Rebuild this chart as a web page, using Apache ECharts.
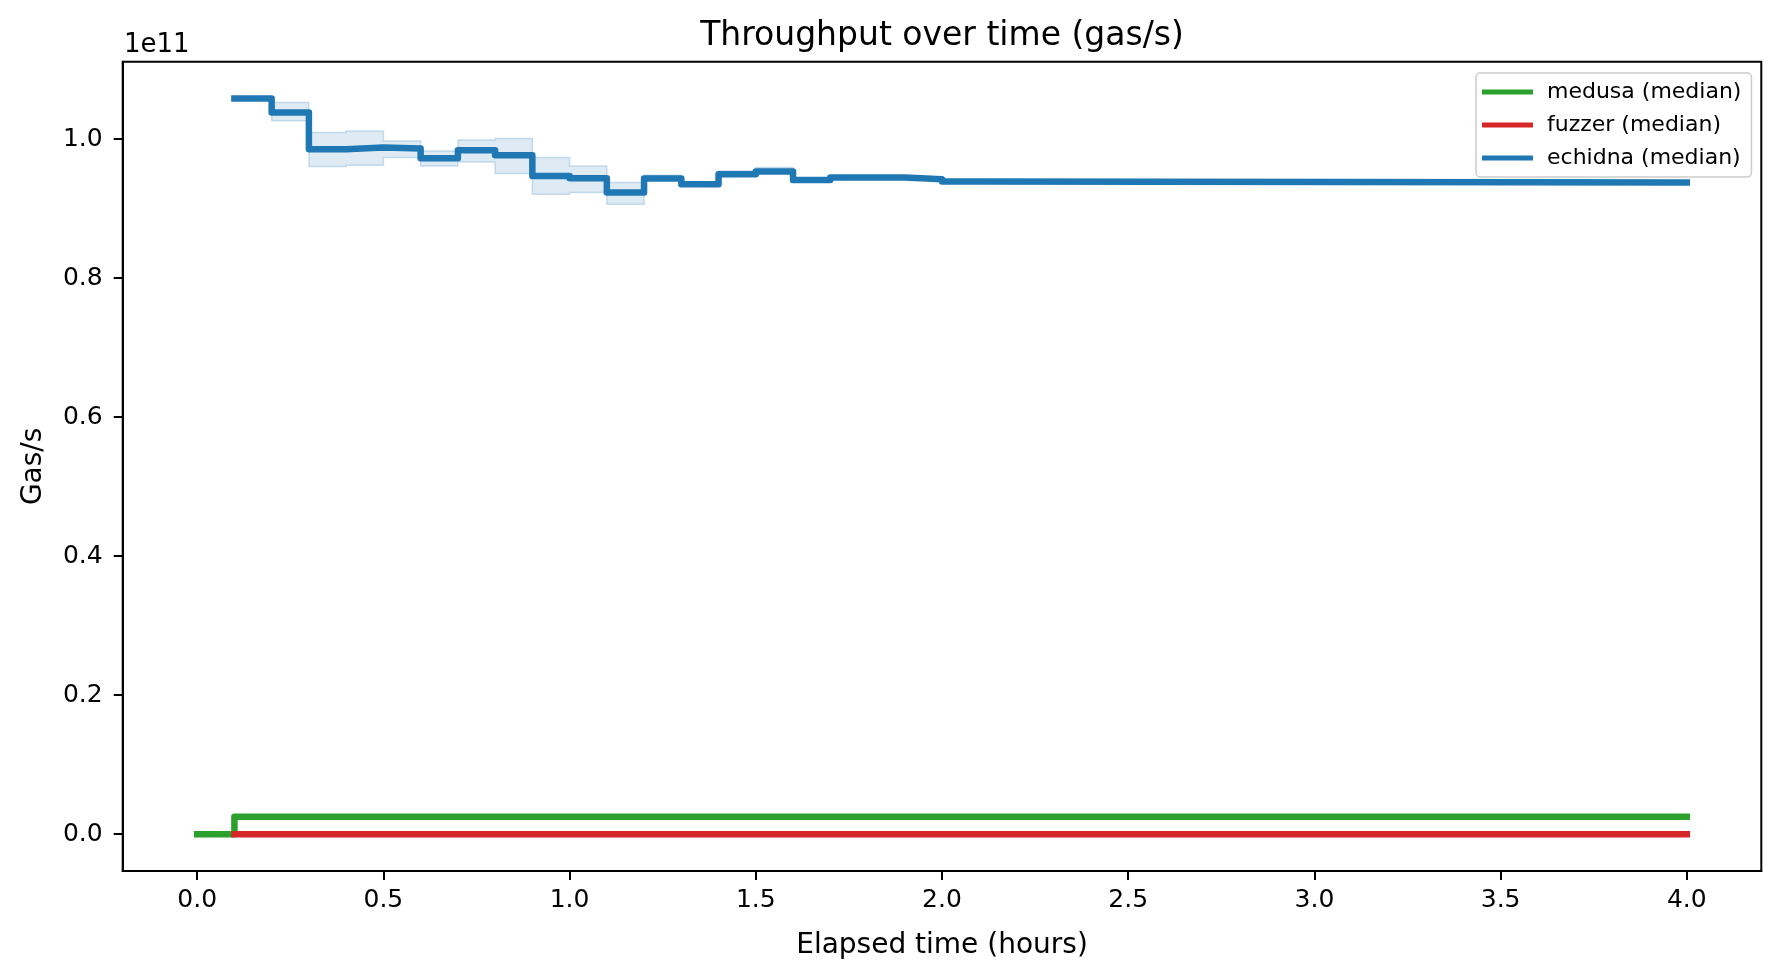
<!DOCTYPE html>
<html>
<head>
<meta charset="utf-8">
<title>Throughput over time (gas/s)</title>
<script src="https://cdn.jsdelivr.net/npm/echarts@6/dist/echarts.min.js"></script>
<style>
  html, body { margin: 0; padding: 0; background: #fff; }
  #chart { width: 1780px; height: 978px; }
</style>
</head>
<body>
<div id="chart"></div>
<script>
// elapsed time (hours) at which each step starts
const echidnaHours = [0.1, 0.2, 0.3, 0.4, 0.5, 0.6, 0.7, 0.8, 0.9, 1.0, 1.1,
  1.2, 1.3, 1.4, 1.5, 1.6, 1.7, 1.8, 1.9, 2.0, 2.1, 4.0]
// gas/s, median and spread band
const echidnaMedian = [1.0586e11, 1.0385e11, 0.9856e11, 0.9880e11, 0.9866e11, 0.9726e11,
  0.9841e11, 0.9769e11, 0.9471e11, 0.9438e11, 0.9232e11, 0.9434e11, 0.9352e11,
  0.9496e11, 0.9535e11, 0.9414e11, 0.9448e11, 0.9448e11, 0.9424e11, 0.9390e11,
  0.9376e11, 0.9376e11]
const echidnaUpper = [1.0586e11, 1.0529e11, 1.0096e11, 1.0119e11, 0.9976e11, 0.9832e11,
  0.9990e11, 1.0010e11, 0.9736e11, 0.9615e11, 0.9376e11, 0.9480e11, 0.9352e11,
  0.9544e11, 0.9592e11, 0.9435e11, 0.9470e11, 0.9455e11, 0.9430e11, 0.9395e11,
  0.9376e11, 0.9376e11]
const echidnaLower = [1.0586e11, 1.0264e11, 0.9607e11, 0.9626e11, 0.9736e11, 0.9615e11,
  0.9673e11, 0.9506e11, 0.9208e11, 0.9232e11, 0.9064e11, 0.9425e11, 0.9345e11,
  0.9490e11, 0.9530e11, 0.9410e11, 0.9440e11, 0.9440e11, 0.9420e11, 0.9385e11,
  0.9370e11, 0.9370e11]

const medusaHours = [0.0, 0.1, 4.0]
const medusaMedian = [0, 2.5e9, 2.5e9]

const fuzzerHours = [0.1, 4.0]
const fuzzerMedian = [0, 0]

const xTicks = [0, 0.5, 1.0, 1.5, 2.0, 2.5, 3.0, 3.5, 4.0]
const yTicks = [0, 0.2e11, 0.4e11, 0.6e11, 0.8e11, 1.0e11]

const FONT = 'DejaVu Sans'
const BLUE = '#1f77b4'
const GREEN = '#2ca02c'
const RED = '#d62728'

const pairs = (xs, ys) => xs.map((x, i) => [x, ys[i]])

// matplotlib style 5% margins
const yDataMax = Math.max(...echidnaUpper)
const yPad = 0.05 * yDataMax

const chart = echarts.init(document.getElementById('chart'))

const lineStyle = color => ({ color: color, width: 6.5, join: 'round', cap: 'square' })

// stepped (post) fill between lower and upper, drawn as one polygon
const renderBand = (params, api) => {
  if (params.dataIndex !== 0) return null
  const top = []
  const bottom = []
  for (let i = 0; i < echidnaHours.length; i++) {
    const x0 = echidnaHours[i]
    const x1 = i + 1 < echidnaHours.length ? echidnaHours[i + 1] : x0
    top.push(api.coord([x0, echidnaUpper[i]]), api.coord([x1, echidnaUpper[i]]))
    bottom.push(api.coord([x0, echidnaLower[i]]), api.coord([x1, echidnaLower[i]]))
  }
  const points = top.concat(bottom.reverse())
  return {
    type: 'polygon',
    shape: { points: points },
    style: {
      fill: 'rgba(31,119,180,0.15)',
      stroke: 'rgba(31,119,180,0.22)',
      lineWidth: 1.5
    }
  }
}

const option = {
  animation: false,
  title: {
    text: 'Throughput over time (gas/s)',
    left: 937,
    top: 15,
    textAlign: 'center',
    textStyle: { fontFamily: FONT, fontSize: 33, fontWeight: 'normal', color: '#000' }
  },
  graphic: [
    {
      type: 'text',
      left: 124,
      top: 32,
      style: { text: '1e11', fontFamily: FONT, fontSize: 26, fill: '#000' }
    }
  ],
  legend: {
    orient: 'vertical',
    left: 1476,
    top: 73,
    align: 'left',
    padding: [8, 10, 8, 6],
    itemGap: 11,
    itemWidth: 51,
    itemHeight: 5,
    icon: 'rect',
    borderColor: '#cccccc',
    borderWidth: 1.5,
    borderRadius: 4,
    backgroundColor: 'rgba(255,255,255,0.8)',
    textStyle: { fontFamily: FONT, fontSize: 22, color: '#000', padding: [0, 0, 0, 9] },
    data: ['medusa (median)', 'fuzzer (median)', 'echidna (median)']
  },
  grid: {
    left: 122.7,
    right: 18.7,
    top: 61.7,
    bottom: 107,
    show: true,
    borderColor: '#000',
    borderWidth: 2,
    containLabel: false
  },
  xAxis: {
    type: 'value',
    min: -0.2,
    max: 4.2,
    name: 'Elapsed time (hours)',
    nameLocation: 'middle',
    nameGap: 61,
    nameTextStyle: { fontFamily: FONT, fontSize: 28, color: '#000' },
    axisLine: { show: true, onZero: false, lineStyle: { color: '#000', width: 2 } },
    splitLine: { show: false },
    axisTick: {
      show: true,
      length: 9,
      lineStyle: { color: '#000', width: 2 },
      customValues: xTicks
    },
    axisLabel: {
      fontFamily: FONT,
      fontSize: 25,
      color: '#000',
      margin: 17,
      customValues: xTicks,
      formatter: v => v.toFixed(1)
    }
  },
  yAxis: {
    type: 'value',
    min: -yPad,
    max: yDataMax + yPad,
    name: 'Gas/s',
    nameLocation: 'middle',
    nameGap: 75,
    nameTextStyle: { fontFamily: FONT, fontSize: 28, color: '#000' },
    axisLine: { show: true, onZero: false, lineStyle: { color: '#000', width: 2 } },
    splitLine: { show: false },
    axisTick: {
      show: true,
      length: 9,
      lineStyle: { color: '#000', width: 2 },
      customValues: yTicks
    },
    axisLabel: {
      fontFamily: FONT,
      fontSize: 25,
      color: '#000',
      margin: 20,
      customValues: yTicks,
      formatter: v => (v / 1e11).toFixed(1)
    }
  },
  series: [
    {
      name: 'echidna band',
      type: 'custom',
      silent: true,
      renderItem: renderBand,
      encode: { x: 0, y: [1, 2] },
      data: echidnaHours.map((x, i) => [x, echidnaLower[i], echidnaUpper[i]]),
      z: 1
    },
    {
      name: 'medusa (median)',
      type: 'line',
      step: 'end',
      showSymbol: false,
      itemStyle: { color: GREEN },
      lineStyle: lineStyle(GREEN),
      data: pairs(medusaHours, medusaMedian),
      z: 2
    },
    {
      name: 'fuzzer (median)',
      type: 'line',
      step: 'end',
      showSymbol: false,
      itemStyle: { color: RED },
      lineStyle: lineStyle(RED),
      data: pairs(fuzzerHours, fuzzerMedian),
      z: 3
    },
    {
      name: 'echidna (median)',
      type: 'line',
      step: 'end',
      showSymbol: false,
      itemStyle: { color: BLUE },
      lineStyle: lineStyle(BLUE),
      data: pairs(echidnaHours, echidnaMedian),
      z: 4
    }
  ]
}

chart.setOption(option)
</script>
</body>
</html>
